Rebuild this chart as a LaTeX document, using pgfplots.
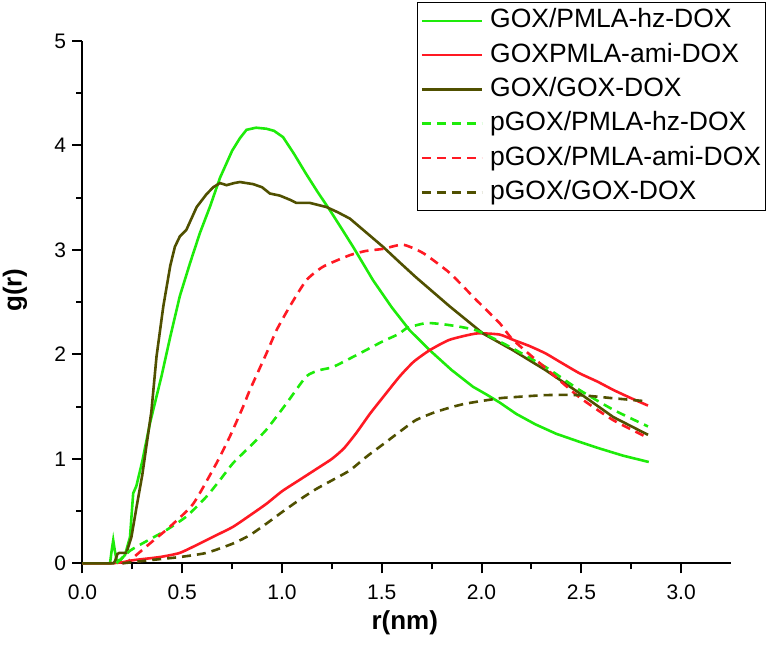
\documentclass[border=0pt]{standalone}
\usepackage{pgfplots}
\pgfplotsset{compat=1.18}
\usepackage{fontspec}
\setmainfont{Liberation Sans}
\definecolor{cgreen}{RGB}{30,235,10}
\definecolor{cred}{RGB}{255,25,35}
\definecolor{colive}{RGB}{80,80,0}
\begin{document}
\begin{tikzpicture}
\useasboundingbox (-82.5pt,-85.7pt) rectangle (691.5pt,563.3pt);
\begin{axis}[
  scale only axis,
  width=648.5pt, height=522.3pt,
  xmin=0, xmax=3.25, ymin=0, ymax=5,
  axis lines*=left,
  axis line style={line width=2pt},
  tick style={line width=2pt, black},
  tick align=outside,
  major tick length=10pt,
  minor tick length=6pt,
  xtick={0,0.5,1,1.5,2,2.5,3},
  ytick={0,1,2,3,4,5},
  minor x tick num=1,
  minor y tick num=1,
  xticklabel style={/pgf/number format/fixed, /pgf/number format/fixed zerofill, /pgf/number format/precision=1, yshift=-8pt},
  yticklabel style={xshift=-3pt},
  /pgf/number format/assume math mode=true,
  ticklabel style={font=\fontsize{21}{25}\selectfont},
  xlabel={\textbf{r(nm)}},
  ylabel={\textbf{g(r)}},
  label style={font=\fontsize{26}{30}\selectfont},
  xlabel style={at={(axis description cs:0.497,-0.1143)}, anchor=center},
  ylabel style={at={(axis description cs:-0.1041,0.523)}, anchor=center},
  legend cell align=left,
  legend style={at={(0.516,1.0747)}, anchor=north west, draw=black, line width=0.8pt,
    font=\fontsize{26.5}{30}\selectfont, inner xsep=3pt, inner ysep=4.5pt, row sep=6.3pt,
    nodes={inner sep=1pt, text height=20pt, text depth=6pt},
    /tikz/every odd column/.append style={column sep=6pt}},
  legend image code/.code={\draw[#1] (0pt,0pt) -- (60pt,0pt);},
  every axis plot/.append style={line width=2.6pt},
  clip=false,
]
\addplot[cgreen, solid] coordinates {
(0,0) (0.138,0) (0.146,0.12) (0.154,0.22) (0.162,0.12) (0.171,0.03) (0.19,0.03) (0.213,0.08) (0.238,0.25) (0.254,0.67) (0.27,0.74) (0.30,0.98) (0.338,1.34) (0.397,1.80) (0.44,2.17) (0.488,2.56) (0.54,2.88) (0.588,3.16) (0.64,3.42) (0.689,3.69) (0.75,3.95) (0.789,4.07) (0.822,4.15) (0.87,4.17) (0.922,4.16) (0.96,4.14) (1.005,4.08) (1.06,3.92) (1.12,3.73) (1.18,3.55) (1.24,3.38) (1.30,3.20) (1.356,3.03) (1.456,2.71) (1.55,2.45) (1.64,2.23) (1.74,2.04) (1.85,1.85) (1.957,1.69) (2.03,1.61) (2.09,1.54) (2.174,1.43) (2.27,1.33) (2.374,1.24) (2.48,1.17) (2.59,1.10) (2.71,1.03) (2.838,0.97)
};
\addlegendentry{GOX/PMLA-hz-DOX}
\addplot[cred, solid, smooth, tension=0.35] coordinates {
(0,0) (0.138,0) (0.2,0.01) (0.255,0.03) (0.388,0.06) (0.488,0.10) (0.588,0.19) (0.672,0.27) (0.755,0.35) (0.84,0.46) (0.922,0.57) (1.0,0.69) (1.089,0.80) (1.17,0.90) (1.25,1.00) (1.31,1.10) (1.373,1.25) (1.44,1.43) (1.506,1.59) (1.59,1.79) (1.66,1.93) (1.74,2.04) (1.84,2.14) (1.974,2.20) (2.09,2.19) (2.157,2.14) (2.24,2.08) (2.32,2.01) (2.40,1.92) (2.49,1.82) (2.58,1.74) (2.66,1.66) (2.75,1.58) (2.834,1.51)
};
\addlegendentry{GOXPMLA-ami-DOX}
\addplot[colive, solid] coordinates {
(0,0) (0.155,0) (0.163,0.02) (0.175,0.09) (0.185,0.10) (0.22,0.10) (0.245,0.25) (0.271,0.54) (0.30,0.85) (0.32,1.12) (0.345,1.45) (0.371,1.98) (0.405,2.46) (0.44,2.85) (0.463,3.03) (0.488,3.13) (0.52,3.19) (0.572,3.41) (0.62,3.53) (0.655,3.60) (0.689,3.64) (0.722,3.62) (0.76,3.64) (0.789,3.65) (0.855,3.63) (0.90,3.60) (0.939,3.54) (0.989,3.52) (1.04,3.48) (1.072,3.45) (1.14,3.45) (1.223,3.41) (1.28,3.36) (1.34,3.30) (1.42,3.17) (1.506,3.03) (1.59,2.88) (1.67,2.74) (1.84,2.46) (2.007,2.20) (2.157,2.04) (2.32,1.85) (2.49,1.63) (2.66,1.40) (2.834,1.23)
};
\addlegendentry{GOX/GOX-DOX}
\addplot[cgreen, dash pattern=on 9pt off 6pt, smooth, tension=0.35] coordinates {
(0.17,0.0) (0.238,0.12) (0.30,0.19) (0.338,0.23) (0.422,0.32) (0.522,0.45) (0.622,0.64) (0.69,0.80) (0.755,0.96) (0.84,1.12) (0.922,1.28) (1.022,1.53) (1.122,1.79) (1.19,1.85) (1.256,1.88) (1.39,2.01) (1.50,2.12) (1.59,2.20) (1.623,2.25) (1.724,2.30) (1.84,2.28) (1.974,2.23) (2.124,2.09) (2.32,1.88) (2.49,1.66) (2.66,1.47) (2.834,1.31)
};
\addlegendentry{pGOX/PMLA-hz-DOX}
\addplot[cred, dash pattern=on 9pt off 6pt, smooth, tension=0.35] coordinates {
(0.2,0) (0.238,0.03) (0.338,0.19) (0.438,0.35) (0.555,0.57) (0.672,0.96) (0.74,1.22) (0.805,1.50) (0.839,1.66) (0.922,2.01) (0.972,2.23) (1.039,2.46) (1.122,2.71) (1.206,2.84) (1.34,2.95) (1.42,2.99) (1.506,3.01) (1.606,3.05) (1.707,2.97) (1.84,2.78) (1.974,2.52) (2.09,2.30) (2.157,2.14) (2.32,1.87) (2.49,1.59) (2.66,1.37) (2.825,1.21)
};
\addlegendentry{pGOX/PMLA-ami-DOX}
\addplot[colive, dash pattern=on 9pt off 6pt, smooth, tension=0.35] coordinates {
(0.2,0) (0.338,0.03) (0.488,0.06) (0.622,0.10) (0.755,0.19) (0.839,0.27) (0.922,0.38) (1.0,0.49) (1.089,0.61) (1.17,0.71) (1.256,0.80) (1.34,0.89) (1.423,1.02) (1.50,1.13) (1.59,1.26) (1.67,1.37) (1.757,1.44) (1.84,1.49) (1.924,1.53) (2.09,1.58) (2.157,1.59) (2.32,1.61) (2.49,1.61) (2.66,1.58) (2.834,1.55)
};
\addlegendentry{pGOX/GOX-DOX}
\end{axis}
\end{tikzpicture}
\end{document}
